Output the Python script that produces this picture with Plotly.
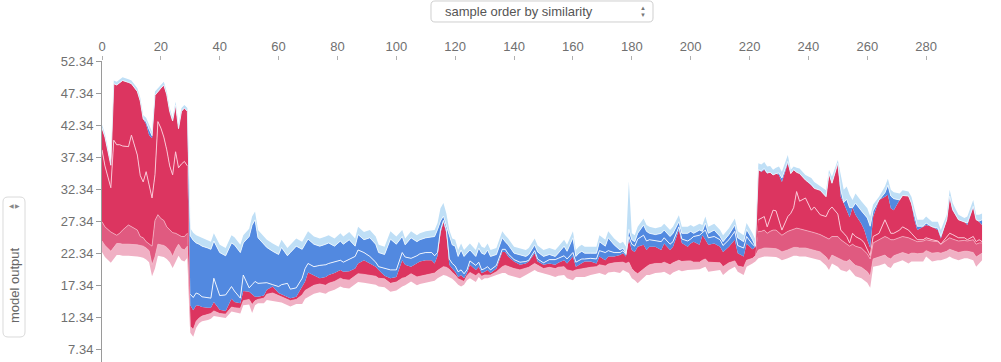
import plotly.graph_objects as go
import numpy as np

# ---------------- data ----------------
sample_idx = (
    [0, 1, 3, 4, 5, 6, 7, 9, 10, 12, 13, 14, 15, 16, 17, 18, 19, 20, 21, 22, 23, 24, 25, 26, 27, 28, 29]
    + [30, 31, 32, 33, 34, 36, 37, 38, 40, 42, 44, 45, 47, 48, 50]
    + [51, 52, 53, 55, 56, 58, 60, 61, 63, 64, 66, 68, 69, 70, 72, 74, 76, 77, 79, 81, 82, 84, 86, 87, 89, 91, 93, 94, 96, 98, 100]
    + [102, 103, 105, 107, 108, 110, 112, 113, 114, 115, 116, 117, 118, 119, 120, 121, 122, 123, 124, 125, 127, 128, 129, 130, 131, 132, 134, 136, 137, 138, 140, 142, 144, 145, 147, 148, 150]
    + [152, 154, 155, 157, 158, 160, 161, 162, 163, 164, 166, 168, 169, 171, 172, 174, 176, 177, 178, 179, 180, 181, 182, 184, 185, 186, 188, 190, 191, 193, 194, 196, 197, 199, 200]
    + [201, 203, 204, 205, 206, 208, 210, 211, 213, 215, 216, 218, 219, 221, 222]
    + [223, 224, 225, 226, 227, 228, 229, 230, 231, 233, 234, 235, 236, 237, 239, 241, 242, 244, 246, 247, 248, 250]
    + [251, 252, 253, 254, 255, 256, 258, 259, 260, 261, 262, 264, 266, 267, 268, 269, 271, 272, 274, 275, 276, 277, 279, 280, 282, 284, 285, 287, 288, 289, 291, 293, 294, 296, 297, 298, 299]
)

# upper edge of the whole stack
top_edge = (
    [42.4, 41.0, 36.6, 49.3, 49.1, 49.5, 49.8, 49.5, 49.3, 48.1, 46.6, 43.9, 43.5, 42.4, 41.3, 47.6, 48.1, 48.6, 49.1, 47.6, 45.0, 43.5, 46.0, 42.4, 45.0, 45.5, 45.0]
    + [26.3, 25.6, 25.2, 25.0, 24.7, 24.4, 24.2, 25.5, 23.7, 23.2, 25.2, 24.9, 23.7, 25.2, 26.2]
    + [28.1, 28.9, 26.0, 25.0, 24.5, 23.9, 23.4, 24.5, 23.2, 23.7, 24.7, 24.2, 25.0, 25.8, 25.0, 24.7, 25.0, 25.2, 24.7, 25.5, 25.0, 25.7, 24.7, 26.5, 25.7, 26.0, 25.0, 23.7, 23.4, 25.8, 25.0]
    + [26.0, 24.7, 25.8, 25.2, 25.5, 25.8, 26.0, 26.0, 27.1, 29.4, 30.2, 28.6, 26.0, 24.7, 24.5, 22.9, 23.9, 22.9, 23.4, 23.9, 22.9, 24.2, 23.4, 23.2, 23.9, 22.9, 23.2, 25.8, 25.2, 24.7, 23.4, 23.2, 22.9, 23.2, 24.7, 23.6, 22.9]
    + [23.2, 22.9, 23.4, 24.5, 23.7, 25.8, 22.9, 23.4, 23.7, 23.4, 23.4, 23.4, 25.2, 24.5, 25.8, 24.7, 23.9, 24.2, 23.4, 33.6, 25.5, 25.2, 26.5, 27.8, 26.8, 26.5, 26.3, 26.5, 27.0, 26.0, 26.5, 28.3, 26.5, 26.5, 26.8]
    + [26.5, 27.0, 26.8, 28.1, 26.5, 27.0, 26.0, 25.2, 26.3, 27.8, 25.8, 25.2, 27.1, 25.5, 24.5]
    + [36.4, 36.2, 36.6, 35.9, 36.0, 35.4, 35.7, 35.9, 35.1, 37.7, 35.4, 35.9, 35.7, 35.6, 34.6, 34.1, 33.5, 32.8, 32.2, 35.4, 34.3, 36.9]
    + [34.3, 32.3, 32.8, 31.5, 30.7, 31.7, 30.5, 30.0, 29.4, 28.1, 30.0, 31.2, 32.8, 34.0, 32.3, 31.9, 31.7, 32.2, 32.0, 31.2, 29.4, 27.6, 27.6, 28.1, 27.3, 27.3, 26.0, 28.4, 32.3, 30.2, 28.4, 27.9, 28.1, 30.7, 28.4, 28.4, 28.6]
)

# model output f(x): boundary between red (positive) and blue (negative) effects
model_out = (
    [41.9, 40.5, 36.1, 48.8, 48.6, 49.0, 49.3, 49.0, 48.8, 47.6, 46.1, 43.3, 42.5, 40.8, 40.3, 47.0, 47.6, 48.1, 48.6, 47.1, 44.5, 43.0, 45.5, 41.8, 44.5, 45.0, 44.5]
    + [14.3, 13.5, 14.3, 14.2, 14.0, 13.9, 13.9, 14.8, 13.6, 13.4, 15.3, 14.8, 14.6, 16.5, 16.4]
    + [16.0, 15.6, 15.6, 15.8, 16.7, 17.2, 16.2, 16.0, 15.6, 15.4, 15.6, 17.2, 18.0, 19.4, 19.0, 18.5, 18.7, 19.0, 19.3, 19.8, 19.5, 19.6, 20.0, 20.8, 21.3, 20.8, 20.3, 19.8, 18.9, 18.5, 18.7]
    + [21.3, 20.6, 20.3, 20.8, 21.1, 21.3, 21.3, 20.8, 22.0, 25.5, 27.3, 25.5, 20.6, 20.0, 19.5, 18.7, 19.0, 18.5, 19.3, 20.6, 19.8, 20.3, 19.3, 19.5, 19.8, 19.3, 20.0, 22.6, 22.6, 21.9, 21.1, 20.6, 20.8, 21.1, 22.4, 21.1, 20.6]
    + [20.8, 20.6, 20.9, 21.3, 20.8, 21.9, 20.3, 20.6, 20.9, 21.1, 21.1, 20.8, 21.9, 21.3, 21.9, 21.9, 22.1, 22.4, 21.9, 24.5, 22.9, 22.6, 23.4, 23.7, 22.9, 23.4, 23.4, 22.9, 23.9, 22.9, 23.4, 26.0, 24.0, 23.4, 23.9]
    + [24.2, 23.7, 25.2, 24.5, 23.7, 23.9, 23.4, 22.6, 23.4, 24.5, 22.4, 21.9, 23.9, 23.0, 23.4]
    + [35.4, 35.1, 35.4, 34.8, 35.0, 34.6, 34.8, 34.6, 33.5, 36.4, 34.8, 35.4, 35.0, 34.8, 33.8, 33.0, 32.5, 32.2, 31.2, 34.8, 33.3, 36.4]
    + [31.2, 30.2, 29.0, 28.0, 29.5, 28.4, 27.0, 26.0, 24.5, 23.2, 28.1, 30.7, 31.2, 31.5, 29.4, 29.1, 30.7, 31.4, 31.3, 30.2, 27.6, 26.0, 26.5, 26.8, 26.5, 26.0, 24.7, 27.6, 31.0, 29.1, 27.6, 27.3, 26.8, 29.6, 27.6, 27.3, 26.8]
)

# lower edge of the whole stack
bottom_edge = (
    [22.6, 21.8, 20.9, 21.5, 22.1, 22.1, 22.0, 22.0, 22.0, 21.9, 21.8, 21.7, 21.4, 21.0, 18.8, 20.0, 22.0, 21.9, 21.8, 21.5, 21.0, 20.1, 21.2, 22.0, 21.3, 21.1, 21.7]
    + [10.0, 9.4, 10.8, 11.5, 11.8, 12.0, 12.2, 12.6, 12.4, 12.3, 13.3, 13.2, 13.0, 14.3, 14.4]
    + [13.1, 14.3, 14.6, 14.6, 15.1, 15.0, 14.8, 14.7, 14.3, 14.1, 14.5, 14.5, 15.3, 15.6, 16.1, 16.3, 16.1, 16.4, 16.7, 17.2, 17.0, 16.9, 17.6, 17.9, 17.8, 17.7, 17.5, 17.2, 17.1, 16.4, 16.6]
    + [17.2, 17.4, 18.0, 17.4, 17.6, 17.8, 17.9, 18.1, 18.5, 18.8, 19.0, 18.9, 18.7, 18.4, 18.0, 17.5, 17.2, 17.5, 18.2, 18.5, 17.9, 18.7, 18.2, 18.5, 18.5, 18.7, 19.0, 19.3, 19.3, 19.0, 18.7, 18.5, 19.0, 19.3, 19.8, 19.5, 19.3]
    + [19.0, 18.7, 18.9, 19.0, 18.5, 18.2, 18.7, 18.7, 18.7, 18.7, 19.0, 19.2, 19.3, 19.0, 19.4, 19.5, 19.3, 19.8, 19.6, 19.3, 18.5, 18.2, 17.7, 18.5, 19.0, 19.0, 19.3, 19.4, 19.5, 19.0, 19.4, 19.8, 19.6, 19.8, 19.8]
    + [19.8, 19.9, 20.1, 20.3, 19.5, 19.6, 19.8, 19.0, 19.8, 20.3, 19.5, 19.0, 20.3, 20.8, 21.1]
    + [21.6, 21.8, 21.9, 21.9, 21.9, 21.9, 21.8, 21.6, 21.3, 21.6, 21.8, 22.0, 22.0, 21.9, 21.9, 21.7, 21.5, 21.3, 20.5, 19.8, 20.8, 20.3]
    + [19.8, 19.6, 19.5, 19.9, 19.3, 18.8, 18.5, 18.2, 17.8, 17.0, 20.3, 20.5, 20.8, 20.3, 20.1, 20.8, 21.1, 21.3, 20.8, 21.1, 21.1, 21.1, 21.1, 21.9, 21.1, 21.3, 21.3, 21.6, 21.9, 21.6, 21.3, 21.6, 21.6, 21.3, 20.3, 20.8, 21.3]
)

# top of the solid pink band (smallest positive effects)
pink_top = (
    [24.3, 23.6, 22.7, 23.3, 23.9, 23.9, 23.8, 23.8, 23.8, 23.7, 23.6, 23.5, 23.2, 22.8, 20.6, 21.8, 23.8, 23.7, 23.6, 23.3, 22.8, 21.9, 23.0, 23.8, 23.1, 22.9, 23.5]
    + [11.0, 10.5, 11.8, 12.3, 12.6, 12.8, 13.0, 13.4, 13.0, 12.9, 14.0, 13.9, 13.8, 15.0, 15.2]
    + [14.4, 15.0, 15.2, 15.4, 16.0, 16.2, 15.8, 15.6, 15.2, 15.0, 15.2, 15.9, 16.6, 16.9, 17.4, 17.6, 17.4, 17.7, 18.0, 18.5, 18.3, 18.2, 18.9, 19.2, 19.1, 19.0, 18.8, 18.5, 18.4, 17.7, 17.9]
    + [18.5, 18.6, 19.2, 18.7, 18.8, 19.0, 19.1, 19.3, 19.7, 20.0, 20.3, 20.2, 19.9, 19.4, 19.0, 18.4, 18.2, 18.0, 18.9, 19.4, 18.9, 19.3, 18.8, 19.0, 19.0, 19.0, 19.5, 20.3, 20.5, 20.3, 20.0, 19.8, 20.0, 20.2, 20.8, 20.5, 20.0]
    + [20.2, 20.0, 20.2, 20.3, 19.8, 19.6, 19.8, 19.9, 20.0, 20.1, 20.2, 20.3, 20.6, 20.4, 20.7, 20.9, 20.9, 21.0, 20.8, 21.0, 20.0, 19.5, 19.2, 20.0, 20.3, 20.6, 20.8, 20.8, 21.0, 20.6, 20.9, 21.3, 21.1, 21.2, 21.2]
    + [21.0, 21.0, 21.3, 21.5, 21.0, 21.0, 20.9, 20.3, 20.9, 21.2, 20.4, 20.2, 21.3, 21.6, 22.0]
    + [22.9, 23.1, 23.2, 23.2, 23.2, 23.2, 23.1, 22.9, 22.6, 22.9, 23.1, 23.3, 23.3, 23.2, 23.2, 23.0, 22.8, 22.6, 21.8, 21.2, 22.1, 21.6]
    + [21.4, 21.2, 21.1, 21.4, 20.9, 20.5, 20.2, 19.9, 19.5, 18.8, 21.5, 21.8, 22.1, 21.7, 21.5, 22.0, 22.3, 22.5, 22.2, 22.4, 22.4, 22.3, 22.4, 22.8, 22.4, 22.5, 22.4, 22.7, 23.0, 22.8, 22.5, 22.7, 22.7, 22.5, 21.8, 22.1, 22.4]
)

# top of the striped zone of small positive effects (None = no striped zone)
stripe_top = (
    [27.3, 26.5, 25.7, 25.5, 25.2, 25.5, 26.0, 26.8, 26.5, 26.0, 25.0, 24.8, 24.2, 23.8, 23.5, 27.5, 28.4, 27.8, 27.5, 26.5, 26.0, 25.6, 25.5, 25.3, 25.0, 25.0, 25.5]
    + [None] * (15 + 31 + 37 + 35 + 15)
    + [25.8, 25.8, 26.0, 25.5, 25.8, 26.0, 26.0, 25.6, 25.2, 25.8, 26.0, 26.2, 26.3, 26.2, 26.0, 25.8, 25.6, 25.3, 24.8, 24.6, 25.0, 25.0]
    + [24.5, 24.2, 23.8, 23.5, 23.8, 23.5, 23.2, 22.8, 22.3, 21.5, 24.0, 24.5, 25.0, 24.8, 24.5, 24.5, 24.8, 25.0, 24.8, 24.6, 24.5, 24.2, 24.3, 24.5, 24.3, 24.2, 23.8, 24.5, 24.8, 24.6, 24.3, 24.4, 24.3, 24.5, 23.8, 24.0, 24.0]
)

# boundary between the two largest red features (None = not visible)
red_split = (
    [38.5, 36.0, 32.6, 40.0, 39.3, 39.3, 39.1, 39.0, 40.8, 37.7, 34.5, 33.5, 35.1, 33.0, 31.0, 34.6, 42.9, 41.9, 40.5, 38.5, 36.0, 34.6, 38.2, 35.7, 36.3, 36.7, 36.0]
    + [None] * (15 + 31 + 37 + 35 + 15)
    + [27.6, 27.8, 28.1, 26.5, 28.0, 29.1, 29.0, 27.6, 26.0, 28.1, 28.6, 29.5, 32.0, 30.5, 31.0, 29.1, 29.6, 28.4, 28.1, 29.1, 29.6, 28.5]
    + [26.0, 25.5, 25.0, 24.0, 25.5, 25.0, 24.5, 24.0, 23.0, 22.0, 25.0, 25.5, 27.6, 26.5, 25.5, 25.5, 26.0, 26.5, 26.0, 25.5, 25.0, 24.5, 24.5, 24.8, 24.5, 24.3, 23.8, 25.0, 25.5, 25.3, 24.8, 24.8, 24.5, 25.0, 24.2, 24.5, 24.2]
)

# boundary between the two largest blue features (None = not visible)
blue_split = (
    [None] * 27
    + [16.0, 15.5, 16.2, 16.0, 15.6, 15.5, 15.4, 18.5, 15.8, 15.9, 17.2, 16.5, 15.4, 19.0, 17.0]
    + [17.5, 18.0, 17.7, 17.8, 17.8, 17.5, 17.2, 17.5, 17.7, 16.8, 17.0, 18.5, 20.0, 20.8, 20.3, 20.5, 20.6, 20.8, 21.0, 21.3, 21.0, 21.5, 21.9, 22.9, 22.5, 21.9, 21.0, 20.3, 20.0, 19.8, 19.8]
    + [22.5, 21.8, 21.6, 22.0, 22.3, 22.5, 22.5, 22.0, 22.5, 26.0, 27.5, 26.0, 21.5, 20.8, 20.4, 19.5, 19.8, 19.2, 19.8, 21.2, 20.5, 21.0, 19.8, 20.0, 20.3, 19.8, 20.5, 23.0, 23.0, 22.3, 21.4, 21.0, 21.1, 21.3, 22.8, 21.5, 20.9]
    + [21.4, 21.4, 21.6, 22.0, 21.5, 22.5, 21.0, 21.3, 21.5, 21.5, 21.6, 21.5, 22.8, 22.5, 22.8, 22.5, 22.5, 22.8, 22.2, 25.0, 23.8, 23.5, 24.6, 25.2, 24.3, 24.5, 24.3, 24.2, 24.8, 23.8, 24.2, 26.5, 24.6, 24.3, 24.6]
    + [25.0, 25.2, 25.6, 26.0, 24.8, 25.0, 24.5, 23.6, 24.5, 25.8, 23.6, 23.2, 25.0, 23.8, 23.4]
    + [None] * (22 + 37)
)

# thickness of the band of many small negative effects (light blue)
light_band = (
    [0.5, 0.5, 0.5, 0.5, 0.5, 0.5, 0.5, 0.5, 0.5, 0.5, 0.5, 0.6, 0.6, 0.7, 0.6, 0.6, 0.5, 0.5, 0.5, 0.5, 0.5, 0.5, 0.5, 0.6, 0.5, 0.5, 0.5]
    + [1.2, 1.2, 1.2, 1.2, 1.2, 1.2, 1.2, 1.2, 1.2, 1.2, 1.2, 1.2, 1.2, 1.2, 1.2]
    + [1.3, 1.3, 1.2, 1.2, 1.2, 1.2, 1.2, 1.2, 1.2, 1.2, 1.2, 1.2, 1.2, 1.2, 1.2, 1.2, 1.2, 1.2, 1.2, 1.2, 1.2, 1.2, 1.2, 1.2, 1.2, 1.2, 1.2, 1.2, 1.2, 1.2, 1.2]
    + [1.0, 1.0, 1.0, 1.0, 1.0, 1.0, 1.0, 1.0, 1.0, 2.0, 2.0, 2.0, 1.0, 1.0, 1.0, 1.0, 1.0, 1.0, 1.0, 1.0, 1.0, 1.0, 1.0, 1.0, 1.0, 1.0, 1.0, 1.0, 1.0, 1.0, 1.0, 1.0, 1.0, 1.0, 1.0, 1.0, 1.0]
    + [1.0, 1.0, 1.0, 1.0, 1.0, 1.0, 1.0, 1.0, 1.0, 1.0, 1.0, 1.0, 1.0, 1.0, 1.0, 1.0, 1.0, 1.0, 1.0, 7.5, 1.0, 1.0, 1.0, 1.0, 1.0, 1.0, 1.0, 1.0, 1.0, 1.0, 1.0, 1.0, 1.0, 1.0, 1.0]
    + [1.0, 1.0, 1.0, 1.0, 1.0, 1.0, 1.0, 1.0, 1.0, 1.0, 1.0, 1.0, 1.0, 1.0, 1.0]
    + [1.0, 1.0, 1.0, 1.0, 1.0, 1.0, 1.0, 1.0, 1.0, 1.0, 1.0, 1.0, 1.0, 1.0, 1.0, 1.0, 1.0, 1.0, 1.0, 1.0, 1.0, 1.0]
    + [2.0, 2.0, 2.0, 2.0, 1.5, 1.5, 1.5, 1.5, 1.5, 1.5, 1.0, 1.0, 1.0, 1.0, 1.0, 1.0, 1.0, 1.0, 1.0, 1.0, 1.0, 1.0, 1.0, 1.0, 1.0, 1.0, 1.0, 1.0, 1.0, 1.0, 1.0, 1.0, 1.0, 1.0, 1.0, 1.0, 1.0]
)

x_tick_vals = [0, 20, 40, 60, 80, 100, 120, 140, 160, 180, 200, 220, 240, 260, 280]
y_tick_vals = [7.34, 12.34, 17.34, 22.34, 27.34, 32.34, 37.34, 42.34, 47.34, 52.34]
dropdown_label = "sample order by similarity"
y_label = "model output"

# ---------------- styles ----------------
RED = "#dc3560"
STRIPE = "#e05a80"
PINK = "#f0b0c4"
BLUE = "#5289e0"
LIGHT = "#bfdff6"
TXT = "#707070"

# ---------------- derived layer edges ----------------
x = np.array(sample_idx, dtype=float)
top = np.array(top_edge)
out = np.array(model_out)
bot = np.array(bottom_edge)
pink = np.clip(np.array(pink_top), bot, out)
rs = np.array([p if r is None else r for r, p in zip(red_split, pink)], dtype=float)
rs = np.clip(rs, pink, out)
st = np.array([p if s is None else s for s, p in zip(stripe_top, pink)], dtype=float)
st = np.clip(st, pink, rs)
bs = np.array([o if b is None else b for b, o in zip(blue_split, out)], dtype=float)
lbb = np.maximum(top - np.array(light_band), out)
bs = np.clip(bs, out, lbb)

fig = go.Figure()
layers = [(bot, None), (pink, PINK), (st, STRIPE), (rs, RED), (out, RED),
          (bs, BLUE), (lbb, BLUE), (top, LIGHT)]
for yv, col in layers:
    fig.add_trace(go.Scatter(
        x=x, y=yv, mode="lines", line=dict(width=0),
        fill=("tonexty" if col else None), fillcolor=col,
        hoverinfo="skip", showlegend=False))


def white_line(vals, width=1.0, color="rgba(255,255,255,0.85)"):
    fig.add_trace(go.Scatter(x=x, y=vals, mode="lines", connectgaps=False,
                             line=dict(color=color, width=width),
                             hoverinfo="skip", showlegend=False))


white_line([r if r is None else float(v) for r, v in zip(red_split, rs)],
           color="rgba(250,200,215,0.95)")
white_line([b if b is None else float(v) for b, v in zip(blue_split, bs)])
white_line(list(lbb), width=1.0, color="rgba(235,245,253,0.9)")
white_line([s if s is None else float(v) for s, v in zip(stripe_top, st)],
           width=0.8, color="rgba(245,185,202,0.9)")
white_line(list(pink), width=0.8, color="rgba(245,190,205,0.9)")

# ---------------- layout ----------------
W, H = 1001, 362
L, R, T, B = 102, 16, 61, 0
PW, PH = W - L - R, H - T - B


def px(xp):
    return (xp - L) / PW


def py(yp):
    return (H - B - yp) / PH


def rounded_box(x0, y0, x1, y1, r):
    pts = [
        ("M", (x0 + r, y0)), ("L", (x1 - r, y0)), ("Q", (x1, y0), (x1, y0 + r)),
        ("L", (x1, y1 - r)), ("Q", (x1, y1), (x1 - r, y1)), ("L", (x0 + r, y1)),
        ("Q", (x0, y1), (x0, y1 - r)), ("L", (x0, y0 + r)), ("Q", (x0, y0), (x0 + r, y0)),
    ]
    s = ""
    for item in pts:
        coords = " ".join(f"{px(a):.5f},{py(b):.5f}" for a, b in item[1:])
        s += f"{item[0]} {coords} "
    return s + "Z"


fig.update_layout(
    width=W, height=H,
    margin=dict(l=L, r=R, t=T, b=B, pad=0),
    plot_bgcolor="white", paper_bgcolor="white",
    showlegend=False,
    font=dict(family="Liberation Sans, Arial, sans-serif", size=13, color=TXT),
    shapes=[
        dict(type="path", xref="paper", yref="paper", path=rounded_box(431, 1, 653, 22, 4),
             line=dict(color="#cfcfcf", width=1), fillcolor="white", layer="above"),
        dict(type="path", xref="paper", yref="paper", path=rounded_box(3, 197, 25, 337, 5),
             line=dict(color="#dadada", width=1), fillcolor="white", layer="above"),
    ],
    annotations=[
        dict(xref="paper", yref="paper", x=px(443), y=py(12), xanchor="left", yanchor="middle",
             text=dropdown_label, showarrow=False, font=dict(size=13, color="#555")),
        dict(xref="paper", yref="paper", x=px(643), y=py(8), xanchor="center", yanchor="middle",
             text="▲", showarrow=False, font=dict(size=6, color="#777")),
        dict(xref="paper", yref="paper", x=px(643), y=py(15), xanchor="center", yanchor="middle",
             text="▼", showarrow=False, font=dict(size=6, color="#777")),
        dict(xref="paper", yref="paper", x=px(14), y=py(285), xanchor="center", yanchor="middle",
             text=y_label, textangle=-90, showarrow=False, font=dict(size=13, color="#666")),
        dict(xref="paper", yref="paper", x=px(11), y=py(206), xanchor="center", yanchor="middle",
             text="◀", showarrow=False, font=dict(size=6, color="#888")),
        dict(xref="paper", yref="paper", x=px(17), y=py(206), xanchor="center", yanchor="middle",
             text="▶", showarrow=False, font=dict(size=6, color="#888")),
    ],
)

fig.update_xaxes(
    range=[0, 300], side="top", tickmode="array", tickvals=x_tick_vals,
    ticktext=[str(v) for v in x_tick_vals], showline=False, showgrid=False, zeroline=False,
    ticks="outside", ticklen=4, tickcolor="#b0b0b0", tickwidth=1,
    tickfont=dict(size=13, color=TXT),
)
fig.update_yaxes(
    range=[5.45, 52.34], tickmode="array", tickvals=y_tick_vals,
    ticktext=[f"{v:.2f}" for v in y_tick_vals], showline=True, linecolor="#9a9a9a", linewidth=1,
    ticks="outside", ticklen=5, tickcolor="#9a9a9a", showgrid=False, zeroline=False,
    tickfont=dict(size=13, color=TXT),
)

fig.write_html("out.html", config={"displayModeBar": False},
               post_script="document.body.style.margin='0px';")
